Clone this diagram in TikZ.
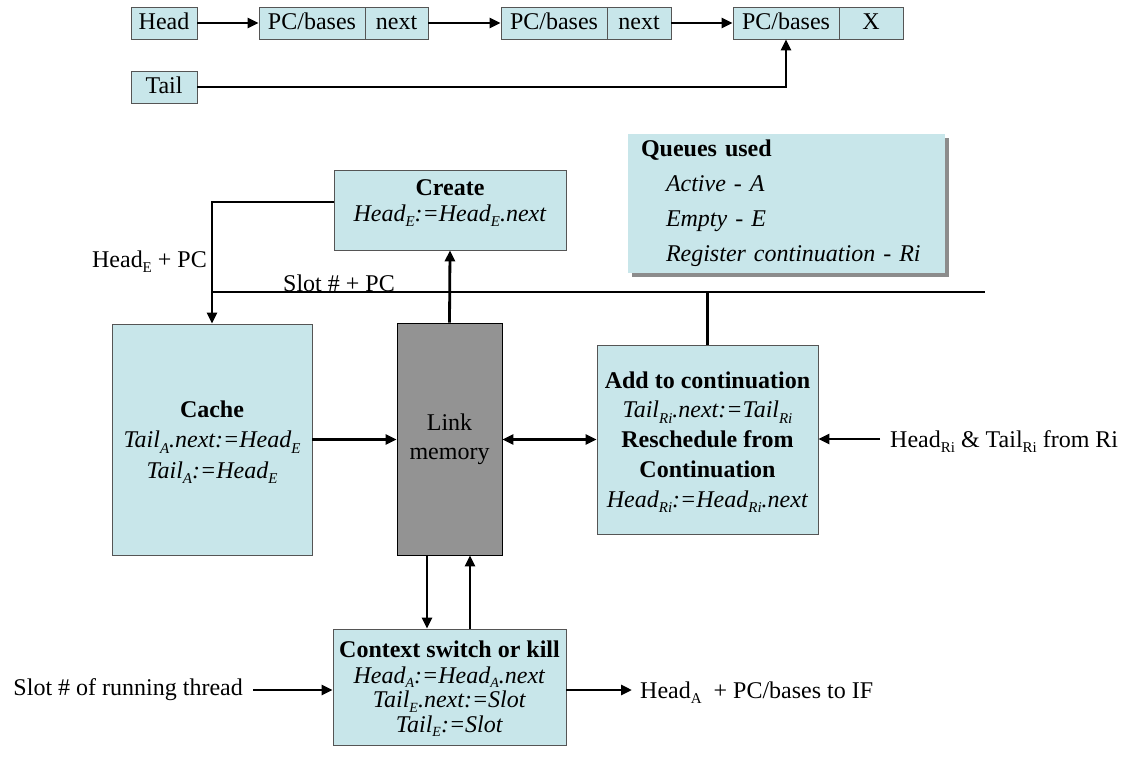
\documentclass[tikz,border=0pt]{standalone}
\usepackage{fontspec}
\setmainfont{Liberation Serif}
\usetikzlibrary{arrows.meta,shadows}
\definecolor{boxfill}{RGB}{200,230,234}
\definecolor{boxline}{RGB}{85,85,85}
\definecolor{linkfill}{RGB}{147,147,147}
\newcommand\sbs[1]{\raisebox{-5.5pt}[0pt][0pt]{\fontsize{15}{15}\selectfont #1}}
\newcommand\ssbs[1]{\raisebox{-4.5pt}[0pt][0pt]{\fontsize{14}{14}\selectfont #1}}
\newcommand\bigfont{\fontsize{24}{29}\selectfont}
\begin{document}
\begin{tikzpicture}[x=1pt,y=-1pt,
  cell/.style={draw=boxline, fill=boxfill, line width=0.8pt, inner sep=0pt, minimum height=32pt,
    text height=19pt, text depth=5pt, font=\bigfont},
  blk/.style={draw=boxline, fill=boxfill, line width=0.8pt, inner sep=0pt, align=center},
  lbl/.style={font=\bigfont, inner sep=0pt},
  tipa/.tip={Triangle[length=11pt,width=10pt]},
  arr/.style={line width=2.8pt, -tipa},
  dbl/.style={line width=2.8pt, tipa-tipa},
  wire/.style={line width=2.8pt}]
\useasboundingbox (0,0) rectangle (1138,757);

% top linked list
\node[cell, minimum width=66pt] (head) at (164,23) {Head};
\node[cell, minimum width=106pt] (b1pc) at (312,23) {PC/bases};
\node[cell, minimum width=63pt] (b1nx) at (396.5,23) {next};
\node[cell, minimum width=106pt] (b2pc) at (554,23) {PC/bases};
\node[cell, minimum width=64pt] (b2nx) at (639,23) {next};
\node[cell, minimum width=106pt] (b3pc) at (786,23) {PC/bases};
\node[cell, minimum width=64pt] (b3x) at (871,23) {X};
\node[cell, minimum width=66pt] (tail) at (164,87) {Tail};
\draw[arr] (head.east) -- (b1pc.west);
\draw[arr] (b1nx.east) -- (b2pc.west);
\draw[arr] (b2nx.east) -- (b3pc.west);
\draw[arr] (tail.east) -| (b3pc.south);

% blocks
\node[blk, minimum width=232pt, minimum height=80pt, text depth=19pt, font=\fontsize{24}{26}\selectfont] (create) at (450,210)
  {\textbf{Create}\\\textit{Head\sbs{E}:=Head\sbs{E}.next}};
\node[draw=none, fill=boxfill, inner sep=0pt, inner xsep=13pt, text width=291pt, minimum height=139pt,
  align=left, font=\fontsize{24}{35}\selectfont,
  drop shadow={shadow xshift=4pt, shadow yshift=-4pt, fill=black!45, opacity=1}] (queues) at (786.5,203.5)
  {\textbf{Queues used}\\\hspace*{25pt}\textit{Active - A}\\\hspace*{25pt}\textit{Empty - E}\\\hspace*{25pt}\textit{Register continuation - Ri}};
\node[blk, minimum width=200pt, minimum height=231pt, font=\fontsize{24}{30.5}\selectfont] (cache) at (212,439.5)
  {\textbf{Cache}\\\textit{Tail\sbs{A}.next:=Head\sbs{E}}\\\textit{Tail\sbs{A}:=Head\sbs{E}}};
\node[draw=black, fill=linkfill, line width=0.8pt, inner sep=0pt, minimum width=105pt, minimum height=232pt,
  align=center, font=\fontsize{24}{29}\selectfont] (link) at (449.5,439) {Link\\memory};
\node[blk, minimum width=221pt, minimum height=189pt, font=\fontsize{24}{29.8}\selectfont] (add) at (707.5,439.5)
  {\textbf{Add to continuation}\\\textit{Tail\sbs{Ri}.next:=Tail\sbs{Ri}}\\\textbf{Reschedule from}\\\textbf{Continuation}\\\textit{Head\sbs{Ri}:=Head\sbs{Ri}.next}};
\node[blk, minimum width=233pt, minimum height=116pt, font=\fontsize{24}{24.5}\selectfont] (ctx) at (449.5,687)
  {\textbf{Context switch or kill}\\[1pt]\textit{Head\ssbs{A}:=Head\ssbs{A}.next}\\\textit{Tail\ssbs{E}.next:=Slot}\\\textit{Tail\ssbs{E}:=Slot}};

% bus and labels
\coordinate (busL) at (212,292);
\coordinate (busR) at (985,292);
\coordinate (xa) at (427,0);
\coordinate (xb) at (470,0);
\node[lbl, anchor=east] (hepc) at (207,259) {Head\sbs{E} + PC};
\node[lbl, anchor=base west] (slotpc) at (283,291) {Slot \# + PC};
\node[lbl, anchor=east, inner xsep=10pt] (slotin) at (253,690) {Slot \# of running thread};
\node[lbl, anchor=west, inner xsep=8pt] (out) at (632,690) {Head\sbs{A}\ \ + PC/bases to IF};
\node[lbl, anchor=west, inner xsep=10pt] (riin) at (880,439) {Head\sbs{Ri} \& Tail\sbs{Ri} from Ri};

% connectors
\draw[arr] ([yshift=8pt]create.west) -| (cache.north);
\draw[wire] (busL) -- (busR);
\draw[wire] (add.north) -- (add.north |- busL);
\draw[arr] (link.north) -- (create.south);
\draw[arr] (cache.east) -- (cache.east -| link.west);
\draw[dbl] (link.east |- add.west) -- (add.west);
\draw[arr] (riin.west) -- (riin.west -| add.east);
\draw[arr] (link.south -| xa) -- (ctx.north -| xa);
\draw[arr] (ctx.north -| xb) -- (link.south -| xb);
\draw[arr] (slotin.east) -- (slotin.east -| ctx.west);
\draw[arr] (out.west -| ctx.east) -- (out.west);
\end{tikzpicture}
\end{document}
